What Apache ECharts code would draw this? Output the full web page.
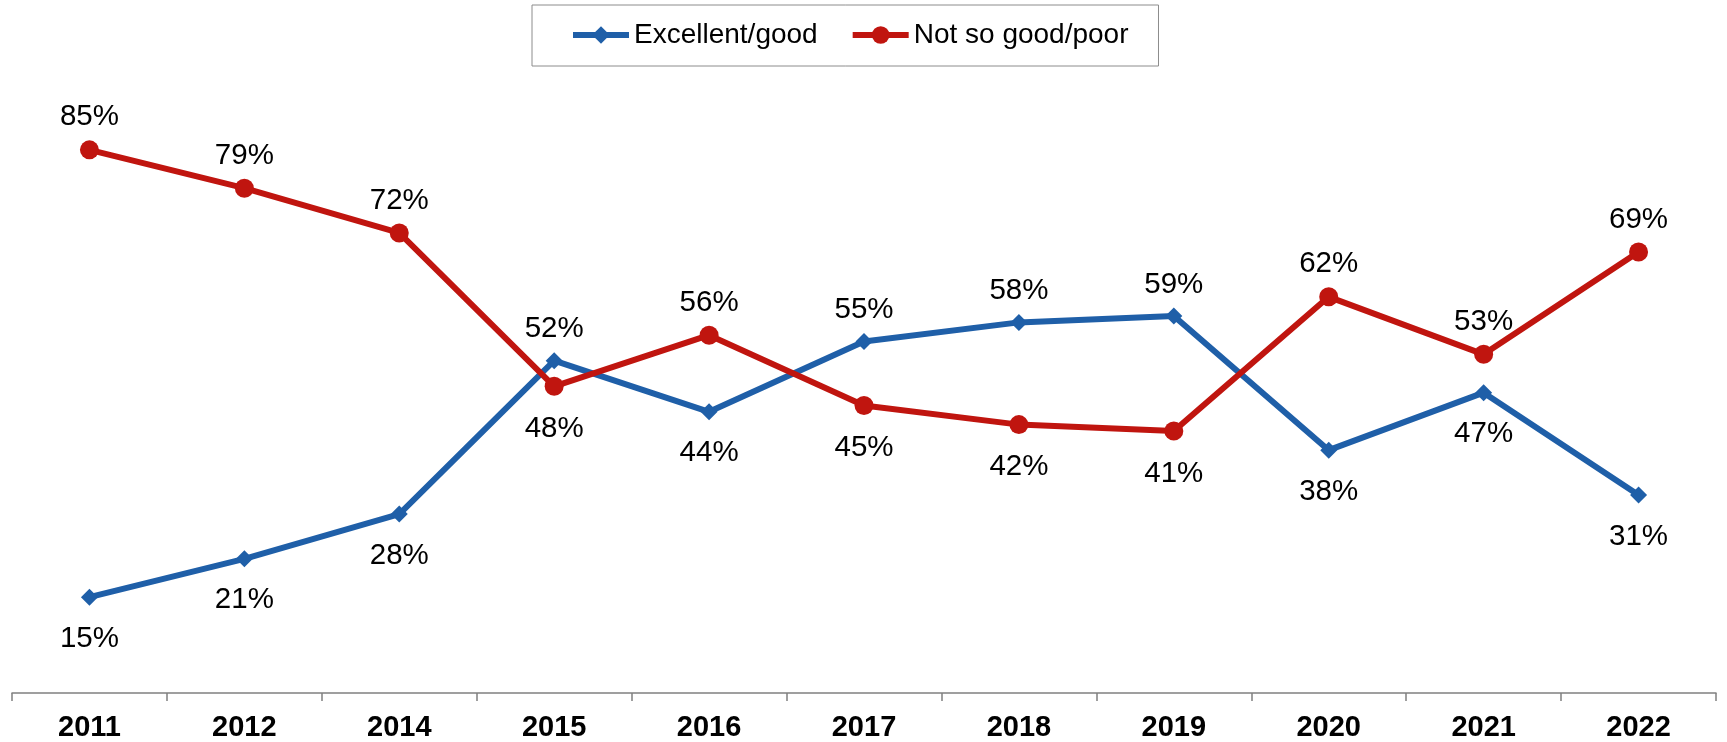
<!DOCTYPE html>
<html>
<head>
<meta charset="utf-8">
<script src="https://cdn.jsdelivr.net/npm/echarts@6/dist/echarts.min.js"></script>
<style>
  html, body { margin: 0; padding: 0; background: #fff; }
  #chart { width: 1727px; height: 742px; }
</style>
</head>
<body>
<div id="chart"></div>
<script>
// Survey years and ratings (percent)
const years = ['2011', '2012', '2014', '2015', '2016', '2017', '2018', '2019', '2020', '2021', '2022'];
const excellentGood = [15, 21, 28, 52, 44, 55, 58, 59, 38, 47, 31];
const notSoGoodPoor = [85, 79, 72, 48, 56, 45, 42, 41, 62, 53, 69];

const BLUE = '#1F5FA8';
const RED = '#C0150F';
const FONT = 'Liberation Sans, Arial, sans-serif';

// The higher of the two values at each year gets its label above the point, the lower below
function points(values, other) {
  return values.map((v, i) => {
    const above = v >= other[i];
    return {
      value: v,
      label: { position: above ? 'top' : 'bottom', distance: above ? 8 : 18 }
    };
  });
}

const labelStyle = {
  show: true,
  formatter: p => p.value + '%',
  fontFamily: FONT,
  fontSize: 29.5,
  color: '#000'
};

const chart = echarts.init(document.getElementById('chart'), null, { renderer: 'canvas' });
chart.setOption({
  animation: false,
  backgroundColor: '#fff',
  legend: {
    left: 532,
    top: 5,
    padding: [16, 30, 17, 38],
    borderColor: '#8c8c8c',
    borderWidth: 1,
    itemWidth: 56,
    itemHeight: 22,
    itemGap: 32,
    lineStyle: { width: 6 },
    textStyle: { fontFamily: FONT, fontSize: 28, color: '#000' },
    data: ['Excellent/good', 'Not so good/poor']
  },
  grid: { left: 12, right: 11, top: 54, bottom: 49, containLabel: false },
  xAxis: {
    type: 'category',
    data: years,
    boundaryGap: true,
    axisLine: { show: true, lineStyle: { color: '#808080', width: 1.5 } },
    axisTick: { show: true, length: 8, inside: false, lineStyle: { color: '#808080', width: 1.5 } },
    axisLabel: {
      margin: 20,
      fontFamily: FONT,
      fontSize: 29,
      fontWeight: 'bold',
      color: '#000'
    }
  },
  yAxis: {
    type: 'value',
    min: 0,
    max: 100,
    show: false,
    splitLine: { show: false }
  },
  series: [
    {
      name: 'Excellent/good',
      type: 'line',
      data: points(excellentGood, notSoGoodPoor),
      symbol: 'diamond',
      symbolSize: 17,
      itemStyle: { color: BLUE },
      lineStyle: { color: BLUE, width: 6 },
      label: labelStyle,
      z: 2
    },
    {
      name: 'Not so good/poor',
      type: 'line',
      data: points(notSoGoodPoor, excellentGood),
      symbol: 'circle',
      symbolSize: 19,
      itemStyle: { color: RED },
      lineStyle: { color: RED, width: 6 },
      label: labelStyle,
      z: 3
    }
  ]
});
</script>
</body>
</html>
